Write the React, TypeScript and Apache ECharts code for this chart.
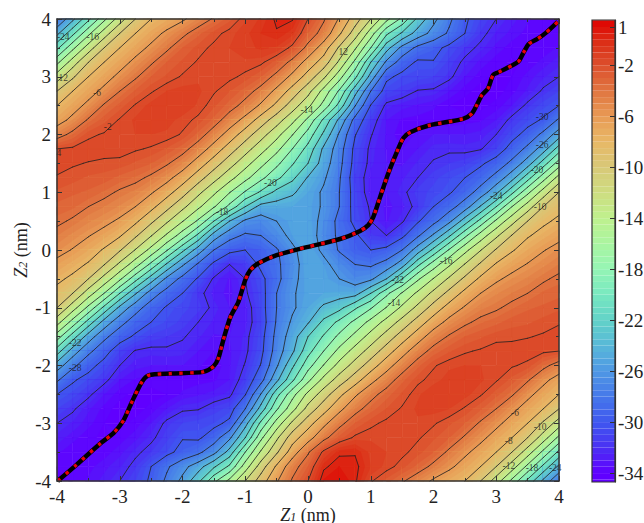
import React, { useEffect, useRef } from "react";
import * as echarts from "echarts";

// Free-energy values; rows run from Z2 = 4 down to Z2 = -4, columns from Z1 = -4 to Z1 = 4.
const gridStep = 0.25;
const zGrid: number[][] = [
  [-28,-24.5,-20.5,-16.5,-13,-10,-8,-7.2,-6.3,-5,-3.8,-2.7,-1.6,-.9,.2,.1,-2,-3.8,-6.2,-9,-12,-15.4,-18.5,-22.5,-25.5,-27.6,-29.7,-31,-32,-32.8,-33.4,-33.9,-34.3],
  [-24.5,-20.5,-16.5,-13,-10,-8,-6.8,-5.6,-4.4,-3.2,-2.3,-1.7,-1.2,-.5,-.1,-.8,-3,-4.7,-7.7,-11,-15,-19.6,-22.3,-24.9,-26.7,-28.3,-30,-31.6,-32.6,-33.2,-33.7,-34,-33.9],
  [-20.5,-16.5,-13,-10,-8,-6.8,-5.6,-4.3,-3,-2.3,-1.8,-1.5,-1.2,-.9,-1.1,-2.3,-4.5,-7,-10.3,-13.7,-18,-23.2,-26.6,-28.5,-29.4,-30.5,-31.5,-32.3,-33.2,-33.8,-34,-33.9,-33.4],
  [-16.5,-13,-10,-8,-6.8,-5.5,-4.2,-3,-2.4,-1.9,-1.6,-1.6,-1.6,-1.8,-2.8,-4.5,-6.8,-8.9,-12.4,-16.5,-22,-26.4,-29,-30.3,-30.1,-31.2,-32.3,-33.2,-33.8,-34.1,-33.9,-33.3,-32.7],
  [-13,-10.3,-8,-6.8,-5.5,-4.2,-3,-2.4,-1.9,-1.6,-1.6,-1.8,-2.2,-3,-4.5,-6.5,-8.8,-11.6,-15.2,-19.5,-24.8,-29.6,-30.5,-30.7,-31,-31.7,-33,-33.8,-34.2,-34,-33.3,-32.6,-32],
  [-10,-8,-6.8,-5.5,-4,-2.9,-2.1,-1.5,-1.3,-1.4,-1.9,-2.5,-3.3,-4.6,-6.5,-8.8,-11.3,-14.7,-18.3,-23.2,-28,-30.8,-31.3,-32.1,-32.2,-33,-33.8,-34.3,-34.3,-33.7,-32.9,-31.8,-31],
  [-8,-6.8,-5.5,-3.8,-2.8,-1.9,-1.3,-1,-1.1,-1.6,-2.4,-3.3,-4.6,-6.3,-8.5,-11,-13.5,-16.7,-20.7,-25.9,-30.1,-32.3,-32.8,-33.1,-33.4,-34,-34.3,-34.2,-33.8,-33,-31.7,-30.7,-30],
  [-6.8,-5.5,-3.8,-2.7,-1.9,-1.4,-1.2,-1.3,-1.7,-2.2,-3.2,-4.9,-6.6,-8.9,-11.1,-13.4,-16.5,-20.4,-24.5,-28.7,-31.3,-33,-33.6,-33.7,-33.8,-33.9,-33.7,-33.6,-33,-31.6,-30.6,-29.8,-27.7],
  [-4.8,-3.5,-2.2,-1.9,-1.6,-1.5,-1.5,-1.6,-2.1,-3.2,-4.9,-6.8,-9,-11.2,-13.3,-15.9,-18.8,-22.4,-26.3,-29.9,-31.9,-33.1,-33.9,-33.4,-33,-33,-33,-32.8,-32,-30.6,-29.4,-27.5,-25],
  [-2,-1.8,-1.6,-1.6,-1.7,-1.9,-2.1,-2.6,-3.4,-4.9,-6.8,-9,-11.2,-13.2,-15.4,-18,-20.7,-24.4,-27.1,-30.5,-32.3,-33.1,-33.5,-33,-32.3,-32.2,-32.3,-32.1,-31,-29.3,-27.5,-25,-21],
  [-1.6,-1.9,-2.05,-2.2,-2.2,-2.6,-3,-3.8,-5,-6.9,-9,-11.2,-13.2,-15.4,-17.5,-19.8,-22,-25,-27.4,-30.7,-32.4,-33,-33.1,-32.4,-31.9,-31.5,-31.2,-30.3,-29.2,-27.5,-25,-21,-17],
  [-2.1,-2.3,-2.6,-2.7,-3.2,-3.6,-4.3,-5.4,-7,-9.1,-11.3,-13.3,-15.4,-17.5,-19.5,-21.5,-24.2,-25.7,-27.8,-31.1,-32.7,-33.1,-32.6,-32,-31.2,-30.6,-30,-29,-27.3,-24.8,-20.8,-16.8,-13.2],
  [-2.6,-2.9,-3.1,-3.6,-4.2,-4.7,-5.8,-7.2,-9.2,-11.5,-13.6,-15.9,-18.2,-20.3,-22.6,-23.7,-25,-26.3,-28,-30.8,-32.8,-33,-32.3,-31.3,-30.8,-30.2,-29,-27.2,-24.5,-20.5,-16.5,-13.1,-10],
  [-3.2,-3.4,-4,-4.5,-5.1,-6,-7.4,-9.4,-11.5,-13.6,-15.8,-18.5,-22,-24.8,-24.9,-25,-25.3,-26.2,-28,-30.8,-32.2,-33.2,-32.7,-31.6,-30,-28.8,-27,-23.8,-20,-16,-13,-10,-8.6],
  [-3.7,-4.2,-4.9,-5.5,-6.3,-7.6,-9.6,-11.7,-13.9,-16.3,-20,-24,-26.4,-26.9,-26,-25.3,-25.2,-26.5,-28.6,-30.5,-32,-33.1,-32.2,-30.2,-28.6,-26.5,-23,-19.3,-15.6,-12.7,-10,-8.4,-7.6],
  [-4.5,-5.2,-5.9,-6.7,-7.8,-9.7,-11.9,-14.3,-17,-20.5,-25,-27.3,-28.3,-28,-26.8,-25.5,-25,-26.8,-28.4,-29.6,-31.4,-32,-30.4,-28.3,-25.7,-22.3,-18.5,-15.1,-12.4,-9.9,-8.2,-7.3,-6.5],
  [-5.4,-6.1,-7,-8.2,-9.8,-12.1,-14.6,-17.8,-21.5,-25,-28,-29.5,-30,-29.4,-28.2,-26.4,-25,-26.4,-28.2,-29.4,-30,-29.5,-28,-25,-21.5,-17.8,-14.6,-12.1,-9.8,-8.2,-7,-6.1,-5.4],
  [-6.5,-7.3,-8.2,-9.9,-12.4,-15.1,-18.5,-22.3,-25.7,-28.3,-30.4,-32,-31.4,-29.6,-28.4,-26.8,-25,-25.5,-26.8,-28,-28.3,-27.3,-25,-20.5,-17,-14.3,-11.9,-9.7,-7.8,-6.7,-5.9,-5.2,-4.5],
  [-7.6,-8.4,-10,-12.7,-15.6,-19.3,-23,-26.5,-28.6,-30.2,-32.2,-33.1,-32,-30.5,-28.6,-26.5,-25.2,-25.3,-26,-26.9,-26.4,-24,-20,-16.3,-13.9,-11.7,-9.6,-7.6,-6.3,-5.5,-4.9,-4.2,-3.7],
  [-8.6,-10,-13,-16,-20,-23.8,-27,-28.8,-30,-31.6,-32.7,-33.2,-32.2,-30.8,-28,-26.2,-25.3,-25,-24.9,-24.8,-22,-18.5,-15.8,-13.6,-11.5,-9.4,-7.4,-6,-5.1,-4.5,-4,-3.4,-3.2],
  [-10,-13.1,-16.5,-20.5,-24.5,-27.2,-29,-30.2,-30.8,-31.3,-32.3,-33,-32.8,-30.8,-28,-26.3,-25,-23.7,-22.6,-20.3,-18.2,-15.9,-13.6,-11.5,-9.2,-7.2,-5.8,-4.7,-4.2,-3.6,-3.1,-2.9,-2.6],
  [-13.2,-16.8,-20.8,-24.8,-27.3,-29,-30,-30.6,-31.2,-32,-32.6,-33.1,-32.7,-31.1,-27.8,-25.7,-24.2,-21.5,-19.5,-17.5,-15.4,-13.3,-11.3,-9.1,-7,-5.4,-4.3,-3.6,-3.2,-2.7,-2.6,-2.3,-2.1],
  [-17,-21,-25,-27.5,-29.2,-30.3,-31.2,-31.5,-31.9,-32.4,-33.1,-33,-32.4,-30.7,-27.4,-25,-22,-19.8,-17.5,-15.4,-13.2,-11.2,-9,-6.9,-5,-3.8,-3,-2.6,-2.2,-2.2,-2.05,-1.9,-1.6],
  [-21,-25,-27.5,-29.3,-31,-32.1,-32.3,-32.2,-32.3,-33,-33.5,-33.1,-32.3,-30.5,-27.1,-24.4,-20.7,-18,-15.4,-13.2,-11.2,-9,-6.8,-4.9,-3.4,-2.6,-2.1,-1.9,-1.7,-1.6,-1.6,-1.8,-2],
  [-25,-27.5,-29.4,-30.6,-32,-32.8,-33,-33,-33,-33.4,-33.9,-33.1,-31.9,-29.9,-26.3,-22.4,-18.8,-15.9,-13.3,-11.2,-9,-6.8,-4.9,-3.2,-2.1,-1.6,-1.5,-1.5,-1.6,-1.9,-2.2,-3.5,-4.8],
  [-27.7,-29.8,-30.6,-31.6,-33,-33.6,-33.7,-33.9,-33.8,-33.7,-33.6,-33,-31.3,-28.7,-24.5,-20.4,-16.5,-13.4,-11.1,-8.9,-6.6,-4.9,-3.2,-2.2,-1.7,-1.3,-1.2,-1.4,-1.9,-2.7,-3.8,-5.5,-6.8],
  [-30,-30.7,-31.7,-33,-33.8,-34.2,-34.3,-34,-33.4,-33.1,-32.8,-32.3,-30.1,-25.9,-20.7,-16.7,-13.5,-11,-8.5,-6.3,-4.6,-3.3,-2.4,-1.6,-1.1,-1,-1.3,-1.9,-2.8,-3.8,-5.5,-6.8,-8],
  [-31,-31.8,-32.9,-33.7,-34.3,-34.3,-33.8,-33,-32.2,-32.1,-31.3,-30.8,-28,-23.2,-18.3,-14.7,-11.3,-8.8,-6.5,-4.6,-3.3,-2.5,-1.9,-1.4,-1.3,-1.5,-2.1,-2.9,-4,-5.5,-6.8,-8,-10],
  [-32,-32.6,-33.3,-34,-34.2,-33.8,-33,-31.7,-31,-30.7,-30.5,-29.6,-24.8,-19.5,-15.2,-11.6,-8.8,-6.5,-4.5,-3,-2.2,-1.8,-1.6,-1.6,-1.9,-2.4,-3,-4.2,-5.5,-6.8,-8,-10.3,-13],
  [-32.7,-33.3,-33.9,-34.1,-33.8,-33.2,-32.3,-31.2,-30.1,-30.3,-29,-26.4,-22,-16.5,-12.4,-8.9,-6.8,-4.5,-2.8,-1.8,-1.6,-1.6,-1.6,-1.9,-2.4,-3,-4.2,-5.5,-6.8,-8,-10,-13,-16.5],
  [-33.4,-33.9,-34,-33.8,-33.2,-32.3,-31.5,-30.5,-29.4,-28.5,-26.6,-23.2,-18,-13.7,-10.3,-7,-4.2,-1.7,-.2,-.1,-1.2,-1.5,-1.8,-2.3,-3,-4.3,-5.6,-6.8,-8,-10,-13,-16.5,-20.5],
  [-33.9,-34,-33.7,-33.2,-32.6,-31.6,-30,-28.3,-26.7,-24.9,-22.3,-19.6,-15,-11,-7.7,-4.7,-3,-.2,.5,.3,-1,-1.7,-2.3,-3.2,-4.4,-5.6,-6.8,-8,-10,-13,-16.5,-20.5,-24.5],
  [-34.3,-33.9,-33.4,-32.8,-32,-31,-29.7,-27.6,-25.5,-22.5,-18.5,-15.4,-12,-9,-6.2,-3.8,-2,.6,1,.2,-1.9,-2.7,-3.8,-5,-6.3,-7.2,-8,-10,-13,-16.5,-20.5,-24.5,-28],
];

const contourLevels = [-32,-30,-28,-26,-24,-22,-20,-18,-16,-14,-12,-10,-8,-6,-4,-2,0];
const colorTicks = [1,-2,-6,-10,-14,-18,-22,-26,-30,-34];
const colorStops: [number,string][] = [
  [-35,"#6000ff"],[-34,"#6000ff"],[-32,"#4a30f4"],[-30,"#3f58ef"],[-28,"#4678ea"],[-26,"#4f98e4"],[-24,"#58b8d8"],
  [-22,"#62d2c8"],[-20,"#78e8c0"],[-18,"#95f5b5"],[-16,"#aaf5a0"],[-14,"#bff08e"],[-12,"#cedc80"],[-10,"#d8c878"],
  [-8,"#e8b866"],[-6,"#e89a55"],[-4,"#e07540"],[-2,"#dc4f2c"],[0,"#dc2a14"],[1.6,"#e00000"],
];
const bandStep = 0.5;
const barMin = -34.7;
const barMax = 1.55;

const pathX = [-3.99,-3.69,-3.31,-3.1,-2.94,-2.81,-2.65,-2.54,-2.19,-1.67,-1.51,-1.43,-1.35,-1.24,-1.11,-1,-.92,-.79,-.5,-.13,-.02,.51,.83,.96,1.04,1.15,1.28,1.44,1.52,1.63,1.94,2.47,2.61,2.69,2.77,2.87,2.95,3.04,3.35,3.43,3.52,3.65,3.79,3.98];
const pathY = [-4,-3.72,-3.35,-3.17,-2.95,-2.64,-2.29,-2.17,-2.14,-2.11,-2.02,-1.88,-1.56,-1.17,-.9,-.52,-.35,-.23,-.09,.02,.05,.19,.33,.43,.57,.92,1.33,1.76,1.94,2.04,2.16,2.27,2.36,2.51,2.68,2.8,3.03,3.08,3.26,3.41,3.57,3.65,3.76,3.95];

const labelTexts = ["-24","-16","12","-6","-2","4","-20","-18","-14","12","-30","-26","-20","-10","-24","-16","-22","-14","-22","-28","-6","-10","-8","-12","-18","-24"];
const labelX = [-3.9,-3.43,-3.9,-3.36,-3.19,-3.97,-.6,-1.37,-.02,.56,3.73,3.73,3.65,3.7,3,2.2,1.43,1.37,-3.71,-3.71,3.3,3.7,3.2,3.2,3.57,3.94];
const labelY = [3.69,3.69,2.98,2.72,2.13,1.68,1.16,.66,2.42,3.43,2.31,1.82,1.385,.75,.94,-.19,-.52,-.92,-1.61,-2.04,-2.82,-3.07,-3.3,-3.74,-3.78,-3.78];

const serif = "'Liberation Serif', 'Times New Roman', serif";
const ink = "#333";

function hex(c: string) { return [1,3,5].map((i) => parseInt(c.slice(i, i + 2), 16)); }
function colorAt(v: number) {
  for (let i = 0; i < colorStops.length - 1; i++) {
    const [a, ca] = colorStops[i];
    const [b, cb] = colorStops[i + 1];
    if (v <= b) {
      const t = Math.max(0, (v - a) / (b - a));
      const p = hex(ca), q = hex(cb);
      return `rgb(${p.map((k, j) => Math.round(k + (q[j] - k) * t)).join(",")})`;
    }
  }
  return colorStops[colorStops.length - 1][1];
}

type P = { x: number; y: number; v: number };
function clipAbove(poly: P[], level: number): P[] {
  const out: P[] = [];
  for (let i = 0; i < poly.length; i++) {
    const a = poly[i], b = poly[(i + 1) % poly.length];
    if (a.v >= level) out.push(a);
    if ((a.v >= level) !== (b.v >= level)) {
      const t = (level - a.v) / (b.v - a.v);
      out.push({ x: a.x + (b.x - a.x) * t, y: a.y + (b.y - a.y) * t, v: level });
    }
  }
  return out;
}

function cellCorners(api: any): P[] {
  const col = api.value(2), row = api.value(3);
  const xa = -4 + col * gridStep, xb = xa + gridStep;
  const yt = 4 - row * gridStep, yb = yt - gridStep;
  const pt = (x: number, y: number, v: number) => {
    const c = api.coord([x, y]);
    return { x: c[0], y: c[1], v };
  };
  return [
    pt(xa, yt, zGrid[row][col]),
    pt(xb, yt, zGrid[row][col + 1]),
    pt(xb, yb, zGrid[row + 1][col + 1]),
    pt(xa, yb, zGrid[row + 1][col]),
  ];
}

function renderFill(_: any, api: any) {
  const q = cellCorners(api);
  const vs = q.map((p) => p.v);
  const lo = Math.min(...vs), hi = Math.max(...vs);
  const first = Math.floor(lo / bandStep);
  const children: any[] = [];
  for (let k = first; k * bandStep < hi; k++) {
    const level = k * bandStep;
    const poly = k === first ? q : clipAbove(q, level);
    if (poly.length < 3) continue;
    const c = colorAt(level + bandStep / 2);
    children.push({
      type: "polygon",
      shape: { points: poly.map((p) => [p.x, p.y]) },
      style: { fill: c, stroke: c, lineWidth: 0.5 },
    });
  }
  return { type: "group", children };
}

function renderContours(_: any, api: any) {
  const q = cellCorners(api);
  const children: any[] = [];
  for (const level of contourLevels) {
    const cuts: number[][] = [];
    for (let i = 0; i < 4; i++) {
      const a = q[i], b = q[(i + 1) % 4];
      if ((a.v >= level) !== (b.v >= level)) {
        const t = (level - a.v) / (b.v - a.v);
        cuts.push([a.x + (b.x - a.x) * t, a.y + (b.y - a.y) * t]);
      }
    }
    const pairs: number[][][] = [];
    if (cuts.length === 2) pairs.push([cuts[0], cuts[1]]);
    if (cuts.length === 4) {
      const mean = (q[0].v + q[1].v + q[2].v + q[3].v) / 4;
      if ((mean >= level) === (q[0].v >= level)) pairs.push([cuts[0], cuts[1]], [cuts[2], cuts[3]]);
      else pairs.push([cuts[3], cuts[0]], [cuts[1], cuts[2]]);
    }
    for (const [s, e] of pairs) {
      children.push({
        type: "line",
        shape: { x1: s[0], y1: s[1], x2: e[0], y2: e[1] },
        style: { stroke: "#222", lineWidth: 0.9, lineCap: "round", opacity: 0.9 },
      });
    }
  }
  return { type: "group", children };
}

function renderBar(_: any, api: any) {
  const v = api.value(1);
  const a = api.coord([0, Math.min(v + bandStep, barMax)]);
  const b = api.coord([1, Math.max(v, barMin)]);
  const c = colorAt(v + bandStep / 2);
  return {
    type: "rect",
    shape: { x: a[0], y: a[1], width: b[0] - a[0], height: b[1] - a[1] },
    style: { fill: c },
  };
}

export default function App() {
  const ref = useRef<HTMLDivElement>(null);
  useEffect(() => {
    document.body.style.margin = "0";
    const chart = echarts.init(ref.current!, undefined, { renderer: "svg" });
    const cells: number[][] = [];
    for (let row = 0; row < zGrid.length - 1; row++)
      for (let col = 0; col < zGrid[0].length - 1; col++)
        cells.push([-4 + col * gridStep, 4 - row * gridStep, col, row]);
    const barBands: number[][] = [];
    for (let v = -35; v < barMax; v += bandStep) barBands.push([0.5, v]);

    const nameRich = {
      i: { fontFamily: serif, fontSize: 18, fontStyle: "italic", color: "#222" },
      s: { fontFamily: serif, fontSize: 12, fontStyle: "italic", color: "#222", padding: [4, 0, 0, 0] },
      n: { fontFamily: serif, fontSize: 18, color: "#222" },
    };
    const mainAxis = (extra: any, withLabels: boolean) => ({
      type: "value", min: -4, max: 4, interval: 1, gridIndex: 0, z: 6,
      axisLine: { show: true, onZero: false, lineStyle: { color: ink, width: 1.5 } },
      axisTick: { show: true, inside: true, length: 5, lineStyle: { color: ink, width: 1 } },
      minorTick: { show: true, splitNumber: 2, length: 3, lineStyle: { color: ink, width: 1 } },
      splitLine: { show: false },
      axisLabel: { show: withLabels, fontFamily: serif, fontSize: 19, color: "#222", margin: 6 },
      ...extra,
    });

    chart.setOption({
      animation: false,
      backgroundColor: "#fff",
      grid: [
        { left: 57, top: 19, width: 502, height: 462, outerBoundsMode: "none" },
        { left: 592, top: 20, width: 23, height: 462, outerBoundsMode: "none" },
      ],
      xAxis: [
        mainAxis({
          position: "bottom",
          name: "{i|Z}{s|1}{n| (nm)}",
          nameLocation: "middle",
          nameGap: 25,
          nameMoveOverlap: false,
          nameTextStyle: { rich: nameRich },
        }, true),
        mainAxis({ position: "top" }, false),
        { type: "value", min: 0, max: 1, gridIndex: 1, show: false },
      ],
      yAxis: [
        mainAxis({
          position: "left",
          name: "{i|Z}{s|2}{n| (nm)}",
          nameLocation: "middle",
          nameGap: 27,
          nameRotate: 90,
          nameMoveOverlap: false,
          nameTextStyle: { rich: nameRich },
        }, true),
        mainAxis({ position: "right" }, false),
        {
          type: "value", gridIndex: 1, position: "right", min: barMin, max: barMax, z: 6,
          axisLine: { show: true, onZero: false, lineStyle: { color: ink, width: 1.2 } },
          axisTick: { show: true, inside: true, length: 5, customValues: colorTicks, lineStyle: { color: ink, width: 1 } },
          splitLine: { show: false },
          axisLabel: { show: true, fontFamily: serif, fontSize: 19, color: "#222", margin: 3, customValues: colorTicks, formatter: (v: number) => String(v) },
        },
      ],
      series: [
        { type: "custom", xAxisIndex: 0, yAxisIndex: 0, z: 1, silent: true, progressive: 0, renderItem: renderFill, data: cells, encode: { x: 0, y: 1 } },
        { type: "custom", xAxisIndex: 0, yAxisIndex: 0, z: 2, silent: true, progressive: 0, renderItem: renderContours, data: cells, encode: { x: 0, y: 1 } },
        {
          type: "line", xAxisIndex: 0, yAxisIndex: 0, z: 3, silent: true, symbol: "none", smooth: 0.25,
          data: pathX.map((x, i) => [x, pathY[i]]), lineStyle: { color: "#000", width: 4.5 },
        },
        {
          type: "line", xAxisIndex: 0, yAxisIndex: 0, z: 4, silent: true, symbol: "none", smooth: 0.25,
          data: pathX.map((x, i) => [x, pathY[i]]), lineStyle: { color: "#e8000a", width: 3.4, type: [3.5, 7.3] },
        },
        {
          type: "scatter", xAxisIndex: 0, yAxisIndex: 0, z: 5, silent: true, symbolSize: 0,
          data: labelX.map((x, i) => [x, labelY[i], labelTexts[i]]),
          label: { show: true, position: "inside", fontFamily: serif, fontSize: 9.5, color: "#1a1a1a", formatter: (p: any) => p.value[2] },
        },
        { type: "custom", xAxisIndex: 2, yAxisIndex: 2, z: 1, silent: true, progressive: 0, renderItem: renderBar, data: barBands, encode: { x: 0, y: 1 } },
        {
          type: "custom", xAxisIndex: 2, yAxisIndex: 2, z: 2, silent: true,
          data: [[0.5, 0]], encode: { x: 0, y: 1 },
          renderItem: (_: any, api: any) => {
            const a = api.coord([0, barMax]), b = api.coord([1, barMin]);
            return { type: "rect", shape: { x: a[0], y: a[1], width: b[0] - a[0], height: b[1] - a[1] }, style: { fill: "none", stroke: ink, lineWidth: 1.2 } };
          },
        },
      ],
    });
    return () => chart.dispose();
  }, []);
  return <div ref={ref} style={{ position: "absolute", left: 0, top: 0, width: 644, height: 523 }} />;
}
